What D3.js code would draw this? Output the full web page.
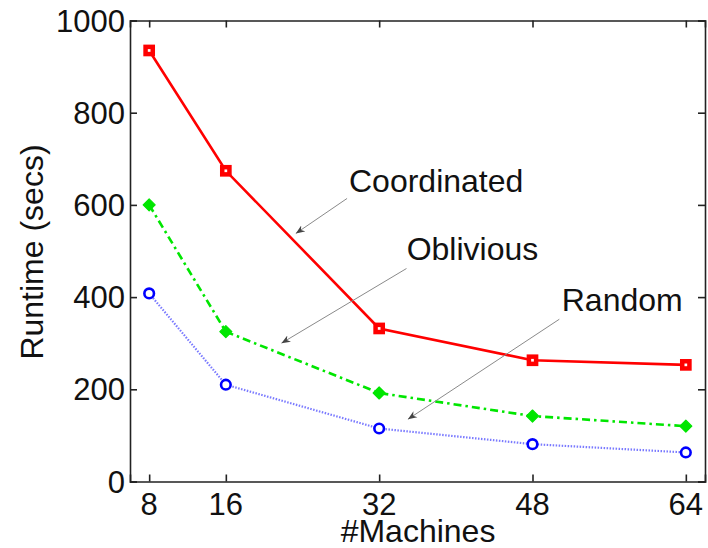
<!DOCTYPE html>
<html><head><meta charset="utf-8">
<script src="https://cdn.jsdelivr.net/npm/d3@7"></script>
<style>
html,body{margin:0;padding:0;background:#fff;}
svg{display:block;}
text{font-family:"Liberation Sans",Arial,Helvetica,sans-serif;fill:#111;}
</style></head>
<body>
<svg id="chart" width="708" height="548"></svg>
<script>
const machines = [8, 16, 32, 48, 64];
const coordinated = [935, 674, 332, 263, 253];
const oblivious = [600, 325, 192, 142, 120];
const random = [408, 210, 115, 81, 63];
const xTicks = [8, 16, 32, 48, 64];
const yTicks = [0, 200, 400, 600, 800, 1000];
const labels = ["Coordinated", "Oblivious", "Random"];
// annotation anchors in data units: [textX, textY, arrowFromX, arrowFromY, arrowToX, arrowToY]
const annCoordinated = [28.85, 628, 28.65, 614, 23.3, 538];
const annOblivious = [34.87, 480, 34.85, 462, 21.8, 300];
const annRandom = [51.05, 370, 50.8, 352, 35.0, 135];

const svg = d3.select("#chart");
const L = 130, R = 705, T = 20.5, B = 481.5;
const x = d3.scaleLinear().domain([6, 66]).range([L, R]);
const y = d3.scaleLinear().domain([0, 1000]).range([B, T]);

// defs: arrowhead
svg.append("defs").append("marker")
  .attr("id", "ah").attr("viewBox", "0 0 10 10").attr("refX", 10).attr("refY", 5)
  .attr("markerWidth", 9).attr("markerHeight", 9).attr("markerUnits", "userSpaceOnUse")
  .attr("orient", "auto")
  .append("path").attr("d", "M0,1 L10,5 L0,9 L3,5 Z").attr("fill", "#444");

// series lines
const line = d3.line().x((d, i) => x(machines[i])).y(d => y(d));

svg.append("path").datum(random).attr("d", line)
  .attr("fill", "none").attr("stroke", "#7a7aff").attr("stroke-width", 2.2)
  .attr("stroke-dasharray", "1.5,1.5");
svg.append("path").datum(oblivious).attr("d", line)
  .attr("fill", "none").attr("stroke", "#00e600").attr("stroke-width", 2.6)
  .attr("stroke-dasharray", "8,4,2.5,4");
svg.append("path").datum(coordinated).attr("d", line)
  .attr("fill", "none").attr("stroke", "#ff0000").attr("stroke-width", 2.6);

// markers
svg.selectAll(".mr").data(random).enter().append("circle")
  .attr("cx", (d, i) => x(machines[i])).attr("cy", d => y(d)).attr("r", 4.8)
  .attr("fill", "#fff").attr("stroke", "#0000ff").attr("stroke-width", 2.6);
svg.selectAll(".mo").data(oblivious).enter().append("path")
  .attr("transform", (d, i) => `translate(${x(machines[i])},${y(d)})`)
  .attr("d", "M0,-6 L6,0 L0,6 L-6,0 Z").attr("fill", "#00e600")
  .attr("stroke", "#00e600").attr("stroke-width", 1.2).attr("stroke-linejoin", "round");
svg.selectAll(".mc").data(coordinated).enter().append("rect")
  .attr("x", (d, i) => x(machines[i]) - 3.6).attr("y", d => y(d) - 3.6)
  .attr("width", 7.2).attr("height", 7.2)
  .attr("fill", "#fff").attr("stroke", "#ff0000").attr("stroke-width", 4.5);

// annotations
[annCoordinated, annOblivious, annRandom].forEach((a, k) => {
  svg.append("line")
    .attr("x1", x(a[2])).attr("y1", y(a[3])).attr("x2", x(a[4])).attr("y2", y(a[5]))
    .attr("stroke", "#8a8a8a").attr("stroke-width", 1).attr("marker-end", "url(#ah)");
  svg.append("text").attr("x", x(a[0])).attr("y", y(a[1]))
    .attr("font-size", 32).text(labels[k]);
});

// axes box
const axisColor = "#222";
const gB = svg.append("g").attr("transform", `translate(0,${B})`)
  .call(d3.axisBottom(x).tickValues(xTicks).tickSize(-7).tickPadding(0).tickFormat(""));
const gT = svg.append("g").attr("transform", `translate(0,${T})`)
  .call(d3.axisTop(x).tickValues(xTicks).tickSize(-7).tickFormat(""));
const gL = svg.append("g").attr("transform", `translate(${L},0)`)
  .call(d3.axisLeft(y).tickValues(yTicks).tickSize(-7).tickFormat(""));
const gR = svg.append("g").attr("transform", `translate(${R},0)`)
  .call(d3.axisRight(y).tickValues(yTicks).tickSize(-7).tickFormat(""));
[gB, gT, gL, gR].forEach(g => {
  g.select(".domain").attr("stroke", axisColor).attr("stroke-width", 1.6);
  g.selectAll(".tick line").attr("stroke", axisColor).attr("stroke-width", 1.6);
});

// tick labels
svg.selectAll(".xl").data(xTicks).enter().append("text")
  .attr("x", d => x(d)).attr("y", 515).attr("text-anchor", "middle")
  .attr("font-size", 31).text(d => d);
svg.selectAll(".yl").data(yTicks).enter().append("text")
  .attr("x", L - 5).attr("y", d => y(d) + 11).attr("text-anchor", "end")
  .attr("font-size", 31).text(d => d);

// axis titles
svg.append("text").attr("x", 418).attr("y", 542).attr("text-anchor", "middle")
  .attr("font-size", 32).text("#Machines");
svg.append("text").attr("transform", "translate(43,252) rotate(-90)")
  .attr("text-anchor", "middle").attr("font-size", 32).text("Runtime (secs)");
</script>
</body></html>
